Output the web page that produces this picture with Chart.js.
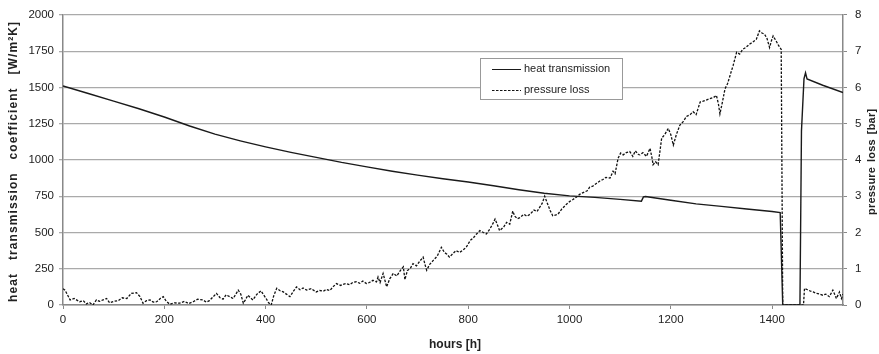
<!DOCTYPE html>
<html>
<head>
<meta charset="utf-8">
<script src="https://cdn.jsdelivr.net/npm/chart.js@4.4.1/dist/chart.umd.min.js"></script>
<style>
  html, body { margin: 0; padding: 0; background: #fff; }
  #chart { display: block; }
</style>
</head>
<body>
<canvas id="chart" width="879" height="354"></canvas>
<script>
// heat transmission coefficient [W/m²K] (left axis)
const heatHours = [0, 50, 100, 150, 200, 250, 300, 350, 400, 450, 500, 550, 600, 650, 700, 750, 800, 850, 900, 950, 1000, 1050, 1100, 1142, 1146, 1150, 1200, 1250, 1300, 1350, 1400, 1416, 1421, 1455, 1458, 1463, 1466, 1469, 1500, 1540];
const heatValues = [1510, 1458, 1406, 1353, 1296, 1234, 1178, 1132, 1090, 1052, 1018, 983, 952, 922, 895, 870, 848, 822, 795, 770, 752, 742, 728, 716, 745, 748, 722, 697, 680, 662, 645, 637, 0, 0, 1200, 1560, 1600, 1558, 1515, 1465];

// pressure loss [bar] (right axis)
const pressureHours = [0, 4, 10, 14, 22, 33, 40, 46, 52, 59, 66, 72, 79, 86, 92, 100, 109, 117, 126, 135, 145, 152, 158, 165, 172, 178, 185, 192, 198, 204, 211, 220, 230, 240, 248, 257, 266, 276, 283, 289, 296, 303, 310, 316, 322, 329, 336, 346, 351, 356, 360, 365, 370, 375, 383, 391, 396, 401, 406, 411, 416, 422, 428, 435, 441, 448, 455, 461, 468, 474, 481, 490, 500, 507, 514, 520, 527, 533, 540, 548, 553, 559, 566, 572, 579, 586, 592, 599, 605, 612, 619, 622, 626, 632, 639, 645, 652, 659, 666, 672, 675, 680, 686, 691, 698, 704, 711, 715, 718, 724, 731, 739, 747, 753, 758, 763, 770, 776, 783, 790, 796, 804, 810, 816, 823, 830, 836, 843, 849, 853, 858, 862, 870, 876, 882, 888, 892, 897, 902, 910, 916, 922, 930, 936, 941, 946, 951, 957, 962, 967, 972, 977, 985, 994, 1000, 1007, 1014, 1020, 1027, 1035, 1040, 1046, 1053, 1060, 1066, 1072, 1080, 1086, 1090, 1096, 1101, 1106, 1112, 1119, 1125, 1130, 1136, 1139, 1145, 1152, 1159, 1163, 1165, 1170, 1175, 1182, 1188, 1195, 1200, 1205, 1211, 1218, 1224, 1231, 1238, 1244, 1250, 1258, 1264, 1270, 1277, 1284, 1290, 1294, 1297, 1302, 1307, 1312, 1317, 1323, 1330, 1336, 1342, 1348, 1356, 1362, 1369, 1375, 1380, 1385, 1390, 1395, 1399, 1402, 1408, 1413, 1418, 1421, 1462, 1464, 1470, 1476, 1481, 1488, 1494, 1500, 1506, 1513, 1520, 1527, 1531, 1533, 1537, 1540];
const pressureValues = [0.45, 0.41, 0.25, 0.14, 0.18, 0.09, 0.12, 0.03, 0.07, 0.0, 0.14, 0.10, 0.14, 0.18, 0.06, 0.10, 0.12, 0.20, 0.18, 0.32, 0.34, 0.23, 0.05, 0.12, 0.14, 0.08, 0.09, 0.18, 0.23, 0.10, 0.02, 0.06, 0.05, 0.10, 0.04, 0.09, 0.16, 0.14, 0.08, 0.12, 0.22, 0.32, 0.20, 0.16, 0.28, 0.23, 0.18, 0.41, 0.30, 0.05, 0.14, 0.27, 0.20, 0.14, 0.30, 0.39, 0.28, 0.18, 0.06, 0.00, 0.25, 0.46, 0.40, 0.36, 0.30, 0.23, 0.38, 0.50, 0.42, 0.47, 0.41, 0.45, 0.36, 0.40, 0.38, 0.43, 0.40, 0.50, 0.59, 0.54, 0.57, 0.59, 0.56, 0.62, 0.64, 0.60, 0.66, 0.59, 0.62, 0.68, 0.64, 0.77, 0.62, 0.87, 0.50, 0.72, 0.87, 0.80, 0.95, 1.05, 0.70, 0.95, 1.02, 1.14, 1.08, 1.20, 1.32, 1.10, 0.96, 1.12, 1.23, 1.35, 1.59, 1.45, 1.40, 1.32, 1.42, 1.50, 1.45, 1.52, 1.59, 1.78, 1.85, 1.95, 2.05, 2.00, 1.96, 2.10, 2.25, 2.37, 2.20, 2.05, 2.15, 2.28, 2.23, 2.59, 2.45, 2.38, 2.41, 2.50, 2.45, 2.50, 2.62, 2.58, 2.69, 2.80, 3.00, 2.78, 2.60, 2.46, 2.48, 2.50, 2.65, 2.78, 2.85, 2.91, 2.98, 3.05, 3.10, 3.15, 3.25, 3.28, 3.35, 3.42, 3.46, 3.52, 3.50, 3.69, 3.62, 4.05, 4.19, 4.14, 4.20, 4.23, 4.10, 4.25, 4.15, 4.14, 4.20, 4.10, 4.32, 4.05, 3.87, 3.95, 3.87, 4.60, 4.70, 4.87, 4.70, 4.41, 4.70, 4.96, 5.05, 5.20, 5.25, 5.33, 5.25, 5.60, 5.62, 5.65, 5.69, 5.72, 5.78, 5.55, 5.27, 5.60, 5.96, 6.10, 6.33, 6.60, 6.97, 6.92, 7.05, 7.10, 7.20, 7.25, 7.33, 7.56, 7.50, 7.47, 7.35, 7.10, 7.30, 7.42, 7.28, 7.15, 7.05, 0, 0, 0.46, 0.42, 0.38, 0.36, 0.32, 0.30, 0.27, 0.30, 0.23, 0.41, 0.18, 0.30, 0.36, 0.18, 0.30];

const hourTicks = [0, 200, 400, 600, 800, 1000, 1200, 1400];
const heatTicks = [0, 250, 500, 750, 1000, 1250, 1500, 1750, 2000];
const pressureTicks = [0, 1, 2, 3, 4, 5, 6, 7, 8];
const seriesNames = ["heat transmission", "pressure loss"];
const xTitle = "hours [h]";
const leftTitle = "heat transmission coefficient [W/m²K]";
const rightTitle = "pressure loss [bar]";

const FONT = "'Liberation Sans', Arial, sans-serif";
const INK = "#222";

function toPoints(xs, ys) {
  return xs.map((x, i) => ({ x: x, y: ys[i] }));
}

// the source titles are letter-spaced with wide word gaps:
// fixed letter spacing, remaining length goes into the spaces
function drawSpread(ctx, text, cx, cy, rot, target, ls) {
  ctx.save();
  ctx.translate(cx, cy);
  ctx.rotate(rot);
  ctx.textAlign = "left";
  ctx.textBaseline = "middle";
  const chars = [...text];
  const widths = chars.map(c => (c === " " ? 0 : ctx.measureText(c).width + ls));
  const used = widths.reduce((a, b) => a + b, 0) - ls;
  const spaces = chars.filter(c => c === " ").length;
  const gap = spaces ? Math.max(3, (target - used) / spaces) : 0;
  let x = -(used + gap * spaces) / 2;
  chars.forEach((c, i) => {
    if (c === " ") { x += gap; return; }
    ctx.fillText(c, x, 0);
    x += widths[i];
  });
  ctx.restore();
}

const overlay = {
  id: "overlay",
  afterDraw(chart) {
    const ctx = chart.ctx;
    const area = chart.chartArea;
    const midY = (area.top + area.bottom) / 2 + 2;
    ctx.save();
    ctx.fillStyle = INK;
    ctx.font = "bold 12px " + FONT;
    ctx.textAlign = "center";
    ctx.textBaseline = "middle";
    ctx.fillText(xTitle, (area.left + area.right) / 2 + 2, chart.height - 9);
    drawSpread(ctx, leftTitle, 14, midY, -Math.PI / 2, 280, 1.1);
    ctx.font = "bold 11px " + FONT;
    drawSpread(ctx, rightTitle, 872, midY, -Math.PI / 2, 106, 0.2);

    // legend box
    const bx = 480, by = 58, bw = 142, bh = 41;
    ctx.fillStyle = "#fff";
    ctx.fillRect(bx, by, bw, bh);
    ctx.strokeStyle = "#999";
    ctx.lineWidth = 1;
    ctx.strokeRect(bx + 0.5, by + 0.5, bw, bh);
    const rows = [69, 90];
    chart.data.datasets.forEach((ds, i) => {
      ctx.beginPath();
      ctx.strokeStyle = ds.borderColor;
      ctx.lineWidth = 1;
      ctx.setLineDash(ds.borderDash || []);
      ctx.moveTo(492, rows[i] + 0.5);
      ctx.lineTo(521, rows[i] + 0.5);
      ctx.stroke();
      ctx.setLineDash([]);
      ctx.fillStyle = INK;
      ctx.font = "11px " + FONT;
      ctx.textAlign = "left";
      ctx.textBaseline = "middle";
      ctx.fillText(ds.label, 524, rows[i]);
    });
    ctx.restore();
  }
};

const tickFont = { family: FONT, size: 11.5 };
const plain = v => String(v);

new Chart(document.getElementById("chart").getContext("2d"), {
  type: "line",
  data: {
    datasets: [
      {
        label: seriesNames[0],
        data: toPoints(heatHours, heatValues),
        yAxisID: "y",
        borderColor: "#1a1a1a",
        borderWidth: 1.4,
        pointRadius: 0,
        tension: 0
      },
      {
        label: seriesNames[1],
        data: toPoints(pressureHours, pressureValues),
        yAxisID: "y1",
        borderColor: "#111",
        borderWidth: 1.3,
        borderDash: [2.5, 1.5],
        pointRadius: 0,
        tension: 0
      }
    ]
  },
  options: {
    responsive: false,
    animation: false,
    devicePixelRatio: 1,
    layout: { padding: { top: 12, left: 0, right: 0, bottom: 0 } },
    plugins: { legend: { display: false }, tooltip: { enabled: false } },
    scales: {
      x: {
        type: "linear",
        position: "bottom",
        min: 0,
        max: 1540,
        afterBuildTicks: s => { s.ticks = hourTicks.map(v => ({ value: v })); },
        afterFit: s => { s.height = 49; },
        grid: { drawOnChartArea: false, tickLength: 4, color: "#888" },
        border: { color: "#888", width: 1.5 },
        ticks: { font: tickFont, color: INK, padding: 4, maxRotation: 0, autoSkip: false, callback: plain }
      },
      y: {
        position: "left",
        min: 0,
        max: 2000,
        afterBuildTicks: s => { s.ticks = heatTicks.map(v => ({ value: v })); },
        afterFit: s => { s.width = 63; },
        grid: { color: "#aaa", lineWidth: 1.3, tickLength: 4 },
        border: { color: "#888", width: 1.5 },
        ticks: { font: tickFont, color: INK, padding: 5, callback: plain }
      },
      y1: {
        position: "right",
        min: 0,
        max: 8,
        afterBuildTicks: s => { s.ticks = pressureTicks.map(v => ({ value: v })); },
        afterFit: s => { s.width = 36; },
        grid: { drawOnChartArea: false, tickLength: 4, color: "#888" },
        border: { color: "#888", width: 1.5 },
        ticks: { font: tickFont, color: INK, padding: 8, callback: plain }
      }
    }
  },
  plugins: [overlay]
});
</script>
</body>
</html>
